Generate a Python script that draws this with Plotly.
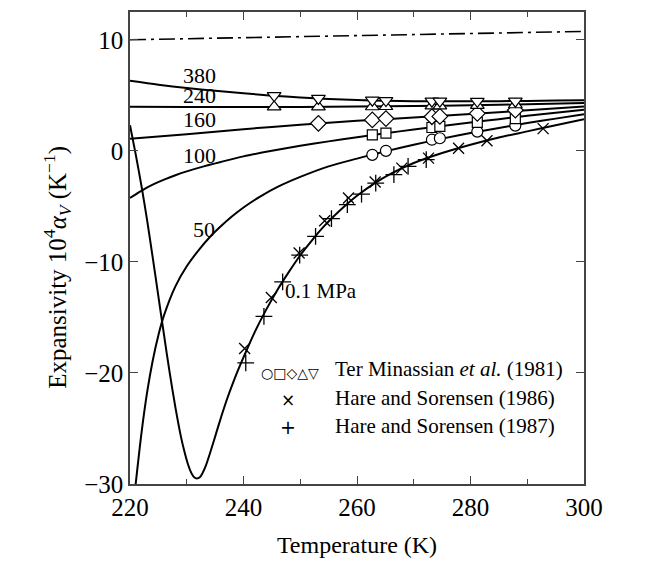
import plotly.graph_objects as go

FONT = "Liberation Serif, Times New Roman, serif"

# ---- data ----
# reference dash-dot line
ref_T = [220, 300]
ref_a = [10.0, 10.75]

# model curves, pressure in MPa
c380_T = [220, 225, 230, 235, 240, 245, 250, 255, 260, 265, 270, 275, 280, 285, 290, 295, 300]
c380_a = [6.3, 5.95, 5.65, 5.4, 5.18, 4.97, 4.8, 4.67, 4.57, 4.5, 4.47, 4.46, 4.46, 4.47, 4.49, 4.52, 4.56]

c240_T = [220, 230, 240, 250, 260, 270, 280, 290, 300]
c240_a = [3.97, 3.95, 3.94, 3.95, 3.98, 4.03, 4.1, 4.19, 4.3]

c160_T = [220, 230, 240, 250, 260, 270, 280, 290, 300]
c160_a = [1.08, 1.5, 1.95, 2.35, 2.7, 3.0, 3.32, 3.65, 4.0]

c100_T = [220, 222, 224, 226, 228, 230, 233, 236, 240, 245, 250, 255, 260, 265, 270, 275, 280, 285, 290, 295, 300]
c100_a = [-4.25, -3.6, -3.05, -2.6, -2.2, -1.85, -1.4, -1.0, -0.5, 0.0, 0.45, 0.85, 1.22, 1.58, 1.92, 2.24, 2.55, 2.85, 3.15, 3.43, 3.7]

c50_T = [221.0, 222, 223, 224, 225, 226, 228, 230, 232, 234, 236, 238, 240, 243, 246, 250, 255, 260, 263, 265, 270, 275, 280, 285, 290, 295, 300]
c50_a = [-30.0, -25.5, -21.8, -18.9, -16.6, -14.8, -12.2, -10.4, -9.0, -7.8, -6.8, -5.9, -5.1, -4.1, -3.25, -2.35, -1.4, -0.7, -0.3, -0.05, 0.55, 1.1, 1.6, 2.05, 2.5, 2.9, 3.3]

c01_T = [220, 221, 222, 223, 224, 225, 226, 227, 228, 229, 229.6, 230.2, 230.8, 231.3, 231.8, 232.3, 232.8, 233.4, 234.3, 235.2, 236.1, 237, 238, 239, 240,
         242, 244, 246, 248, 250, 252, 254, 256, 258, 260, 263, 266, 270, 275, 280, 285, 290, 295, 300]
c01_a = [2.3, -0.3, -3.1, -6.2, -9.6, -13.1, -16.6, -20.0, -23.1, -25.8, -27.1, -28.2, -29.0, -29.4, -29.5, -29.4, -29.0, -28.3, -26.9, -25.4, -23.9, -22.5, -21.1, -19.8, -18.6,
         -16.3, -14.3, -12.5, -10.9, -9.4, -8.1, -6.9, -5.85, -4.9, -4.05, -2.95, -2.05, -1.1, -0.2, 0.55, 1.2, 1.75, 2.3, 2.85]

# Ter Minassian et al. (1981)
tm_T_all = [262.7, 265.1, 273.2, 274.6, 281.2, 287.9]
tm50_a = [-0.36, 0.0, 1.0, 1.13, 1.73, 2.27]
tm100_a = [1.43, 1.6, 2.1, 2.2, 2.56, 2.9]
tm160_T = [253.2, 262.7, 265.1, 273.2, 274.6, 281.2, 287.9]
tm160_a = [2.48, 2.78, 2.9, 3.07, 3.1, 3.37, 3.67]
tm240_T = [245.4, 253.2, 262.7, 265.1, 273.2, 274.6, 281.2, 287.9]
tm240_a = [3.95, 3.95, 3.97, 3.99, 4.04, 4.05, 4.1, 4.15]
tm380_T = [245.4, 253.2, 262.7, 265.1, 273.2, 274.6, 281.2, 287.9]
tm380_a = [4.97, 4.72, 4.56, 4.52, 4.47, 4.47, 4.46, 4.47]

# Hare and Sorensen (1986)
hs86_T = [240.2, 244.9, 249.8, 254.3, 258.5, 263.2, 267.9, 272.6, 277.9, 282.9, 292.8]
hs86_a = [-17.8, -13.2, -9.2, -6.3, -4.25, -2.8, -1.56, -0.66, 0.23, 0.9, 2.0]

# Hare and Sorensen (1987)
hs87_T = [240.4, 243.6, 246.9, 249.9, 252.7, 255.5, 258.3, 260.8, 263.3, 266.5, 269.0, 272.2]
hs87_a = [-19.1, -14.9, -11.8, -9.4, -7.7, -6.1, -4.85, -3.9, -2.9, -2.15, -1.4, -0.8]

# curve labels
lab_text = ["380", "240", "160", "100", "50"]
lab_T = [232.3, 232.3, 232.3, 232.3, 233.0]
lab_a = [6.8, 5.0, 2.85, -0.4, -7.1]

x_ticks = [220, 240, 260, 280, 300]
y_ticks = [-30, -20, -10, 0, 10]

# ---- figure ----
fig = go.Figure()

line = dict(color="black", width=2)
fig.add_trace(go.Scatter(x=ref_T, y=ref_a, mode="lines",
                         line=dict(color="black", width=1.6, dash="16px,5px,3px,5px")))
for T, a in [(c380_T, c380_a), (c240_T, c240_a), (c160_T, c160_a),
             (c100_T, c100_a), (c50_T, c50_a), (c01_T, c01_a)]:
    fig.add_trace(go.Scatter(x=T, y=a, mode="lines", line=dict(shape="spline", smoothing=0.8, **line)))

open_m = lambda sym, size=11: dict(symbol=sym, size=size, color="white",
                                   line=dict(color="black", width=1.2))
fig.add_trace(go.Scatter(x=tm_T_all, y=tm50_a, mode="markers", marker=open_m("circle", 11)))
fig.add_trace(go.Scatter(x=tm_T_all, y=tm100_a, mode="markers", marker=open_m("square", 10)))
fig.add_trace(go.Scatter(x=tm160_T, y=tm160_a, mode="markers", marker=open_m("diamond", 12)))
fig.add_trace(go.Scatter(x=tm240_T, y=tm240_a, mode="markers", marker=open_m("triangle-up", 12)))
fig.add_trace(go.Scatter(x=tm380_T, y=tm380_a, mode="markers", marker=open_m("triangle-down", 12)))

fig.add_trace(go.Scatter(x=hs86_T, y=hs86_a, mode="markers",
                         marker=dict(symbol="x-thin", size=11, line=dict(color="black", width=1.3))))
fig.add_trace(go.Scatter(x=hs87_T, y=hs87_a, mode="markers",
                         marker=dict(symbol="cross-thin", size=12, line=dict(color="black", width=1.3))))

ann = []
for t, x, y in zip(lab_text, lab_T, lab_a):
    ann.append(dict(x=x, y=y, text=t, showarrow=False, xref="x", yref="y",
                    font=dict(family=FONT, size=22, color="black")))
ann.append(dict(x=247.0, y=-12.65, text="0.1 MPa", showarrow=False, xanchor="left",
                font=dict(family=FONT, size=21, color="black")))

# legend (drawn as text)
leg_font = dict(family=FONT, size=21, color="black")
ann += [
    dict(x=0.352, y=0.2137, xref="paper", yref="paper", text="○□◇△▽", showarrow=False,
         font=dict(family="DejaVu Sans", size=14, color="black")),
    dict(x=0.447, y=0.2137, xref="paper", yref="paper", xanchor="left",
         text="Ter Minassian <i>et al.</i> (1981)", showarrow=False, font=leg_font),
    dict(x=0.348, y=0.1525, xref="paper", yref="paper", text="×", showarrow=False,
         font=dict(family="DejaVu Sans", size=17, color="black")),
    dict(x=0.447, y=0.1525, xref="paper", yref="paper", xanchor="left",
         text="Hare and Sorensen (1986)", showarrow=False, font=leg_font),
    dict(x=0.348, y=0.0928, xref="paper", yref="paper", text="+", showarrow=False,
         font=dict(family="DejaVu Sans", size=19, color="black")),
    dict(x=0.447, y=0.0928, xref="paper", yref="paper", xanchor="left",
         text="Hare and Sorensen (1987)", showarrow=False, font=leg_font),
]

# y-axis title (placed as a rotated annotation, slightly below the plot centre as in the reference)
ann.append(dict(x=-0.205, y=0.46, xref="paper", yref="paper", textangle=-90, showarrow=False,
                text="Expansivity 10<sup>4</sup><i>α<sub>V</sub></i> (K<sup>−1</sup>)",
                font=dict(family=FONT, size=25, color="black")))

axis_common = dict(showline=True, linecolor="#444", linewidth=1.5, mirror="ticks",
                   ticks="inside", ticklen=8, tickwidth=1.2, tickcolor="#444",
                   showgrid=False, zeroline=False,
                   tickfont=dict(family=FONT, size=25, color="black"))

fig.update_layout(
    width=670, height=568,
    margin=dict(l=130, r=86, t=10, b=84),
    paper_bgcolor="white", plot_bgcolor="white",
    showlegend=False,
    annotations=ann,
    xaxis=dict(range=[220, 300], tickvals=x_ticks,
               minor=dict(dtick=10, ticks="inside", ticklen=5, tickcolor="#444", showgrid=False),
               title=dict(text="Temperature (K)", font=dict(family=FONT, size=24, color="black"), standoff=16),
               **axis_common),
    yaxis=dict(range=[-30, 12.5], tickvals=y_ticks, **axis_common),
)

fig.write_html("out.html")
